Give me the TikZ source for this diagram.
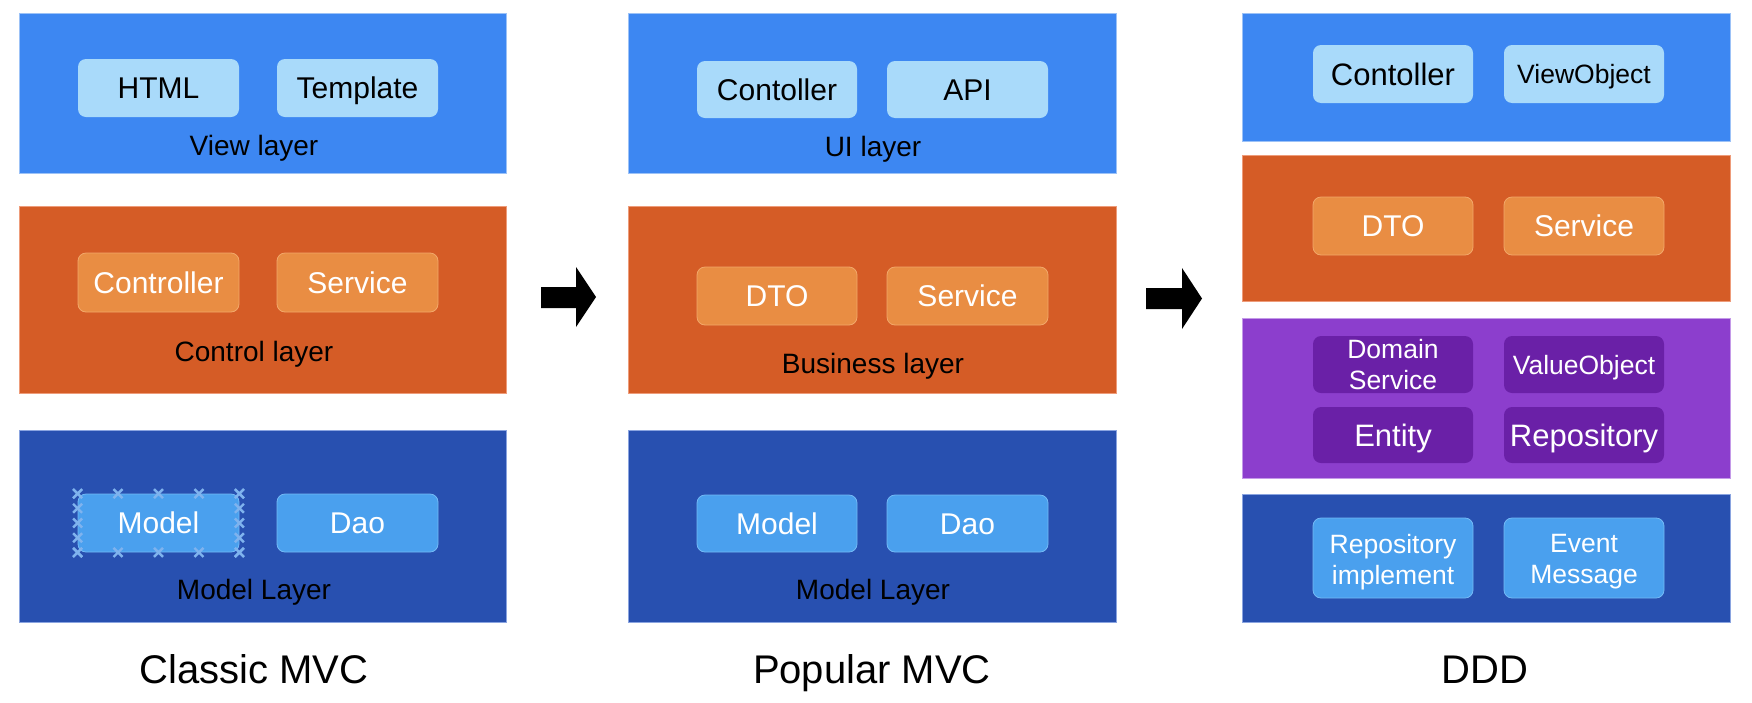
\documentclass[tikz,border=0pt]{standalone}
\usepackage{fontspec}
\setmainfont{Liberation Sans}
\usetikzlibrary{calc}
\definecolor{cTop}{HTML}{3D87F2}
\definecolor{cTopB}{HTML}{9CC2F7}
\definecolor{cLight}{HTML}{A9DAFA}
\definecolor{cOr}{HTML}{D55C26}
\definecolor{cOrB}{HTML}{EE9C7A}
\definecolor{cOrBox}{HTML}{E98D43}
\definecolor{cOrBoxB}{HTML}{F2A86A}
\definecolor{cDb}{HTML}{2850B0}
\definecolor{cDbB}{HTML}{8AA4E0}
\definecolor{cBlBox}{HTML}{4AA0EE}
\definecolor{cBlBoxB}{HTML}{74BAF6}
\definecolor{cPu}{HTML}{8C3ECD}
\definecolor{cPuB}{HTML}{C49AE8}
\definecolor{cPuBox}{HTML}{6A20A7}
\definecolor{cHandle}{HTML}{7FB3EE}
\newcommand\fsz[2]{\fontsize{#1}{#2}\selectfont}
\tikzset{
  layer/.style={inner sep=0pt, line width=1pt},
  toplayer/.style={layer, fill=cTop, draw=cTopB},
  orlayer/.style={layer, fill=cOr, draw=cOrB},
  dblayer/.style={layer, fill=cDb, draw=cDbB},
  pulayer/.style={layer, fill=cPu, draw=cPuB},
  capc/.style={text height=#1, text depth=0pt},
  ibox/.style={rounded corners=8pt, inner sep=0pt, align=center, font=\fsz{30}{36}},
  one/.style={capc=21.5pt},
  onebig/.style={font=\fsz{31}{37}, capc=22.2pt},
  onesmall/.style={font=\fsz{26.5}{31}, capc=19pt},
  lightbox/.style={ibox, fill=cLight, text=black},
  orbox/.style={ibox, fill=cOrBox, draw=cOrBoxB, line width=0.8pt, text=white},
  blbox/.style={ibox, fill=cBlBox, draw=cBlBoxB, line width=0.8pt, text=white},
  pubox/.style={ibox, fill=cPuBox, text=white},
  small/.style={font=\fsz{26.5}{31}},
  lab/.style={font=\fsz{28}{34}, text=black, inner sep=0pt, capc=20pt},
  titlelab/.style={font=\fsz{40}{48}, text=black, inner sep=0pt, capc=28.6pt},
  handle/.style={draw=cHandle, line width=2.4pt},
  bigarrow/.style={fill=black},
}
\begin{document}
\begin{tikzpicture}[x=1pt,y=-1pt]
\fill[white] (0,0) rectangle (1752,702);
\useasboundingbox (0,0) rectangle (1752,702);

% ---------- Column 1: Classic MVC ----------
\node[toplayer, minimum width=487pt, minimum height=160pt] (c1view) at (262.5,93) {};
\node[orlayer, minimum width=487pt, minimum height=187pt] (c1ctrl) at (262.5,299.5) {};
\node[dblayer, minimum width=487pt, minimum height=192pt] (c1model) at (262.5,526) {};

\node[lightbox, one, minimum width=161pt, minimum height=58pt] (html) at (158.5,88) {HTML};
\node[lightbox, one, minimum width=161pt, minimum height=58pt] (tmpl) at (357.5,88) {Template};
\node[lab] (viewlab) at (254,145.5) {View layer};

\node[orbox, one, minimum width=161pt, minimum height=59pt] (c1controller) at (158.5,282.5) {Controller};
\node[orbox, one, minimum width=161pt, minimum height=59pt] (c1service) at (357.5,282.5) {Service};
\node[lab] (ctrllab) at (254,351.5) {Control layer};

\node[blbox, one, minimum width=161pt, minimum height=58pt] (c1m) at (158.5,523) {Model};
\node[blbox, one, minimum width=161pt, minimum height=58pt] (c1dao) at (357.5,523) {Dao};
\node[lab] (c1modellab) at (254,589.5) {Model Layer};

\node[titlelab] (t1) at (254,669.5) {Classic MVC};

% selection handles on Model box
\foreach \t in {0,0.25,0.5,0.75,1} {
  \coordinate (ha) at ($(c1m.north west)!\t!(c1m.north east)$);
  \coordinate (hb) at ($(c1m.south west)!\t!(c1m.south east)$);
  \coordinate (hc) at ($(c1m.north west)!\t!(c1m.south west)$);
  \coordinate (hd) at ($(c1m.north east)!\t!(c1m.south east)$);
  \foreach \h in {ha,hb,hc,hd} {
    \draw[handle] ($(\h)+(-4.5,-4.5)$) -- ($(\h)+(4.5,4.5)$) ($(\h)+(-4.5,4.5)$) -- ($(\h)+(4.5,-4.5)$);
  }
}

% ---------- Arrow 1 ----------
\fill[bigarrow] (541,287) -- (576,287) -- (576,267) -- (596,297) -- (576,327) -- (576,308) -- (541,308) -- cycle;

% ---------- Column 2: Popular MVC ----------
\node[toplayer, minimum width=488pt, minimum height=160pt] (c2ui) at (872,93) {};
\node[orlayer, minimum width=488pt, minimum height=187pt] (c2bus) at (872,299.5) {};
\node[dblayer, minimum width=488pt, minimum height=192pt] (c2model) at (872,526) {};

\node[lightbox, one, minimum width=160pt, minimum height=57pt] (c2contoller) at (777,89.5) {Contoller};
\node[lightbox, one, minimum width=161pt, minimum height=57pt] (api) at (967.5,89.5) {API};
\node[lab] (uilab) at (873,146.5) {UI layer};

\node[orbox, one, minimum width=160pt, minimum height=58pt] (c2dto) at (777,296) {DTO};
\node[orbox, one, minimum width=161pt, minimum height=58pt] (c2service) at (967.5,296) {Service};
\node[lab] (buslab) at (873,363) {Business layer};

\node[blbox, one, minimum width=160pt, minimum height=57pt] (c2m) at (777,523.5) {Model};
\node[blbox, one, minimum width=161pt, minimum height=57pt] (c2dao) at (967.5,523.5) {Dao};
\node[lab] (c2modellab) at (873,589.5) {Model Layer};

\node[titlelab] (t2) at (872,669.5) {Popular MVC};

% ---------- Arrow 2 ----------
\fill[bigarrow] (1146,288) -- (1182,288) -- (1182,268) -- (1202,298.5) -- (1182,329) -- (1182,309) -- (1146,309) -- cycle;

% ---------- Column 3: DDD ----------
\node[toplayer, minimum width=488pt, minimum height=128pt] (c3ui) at (1486,77) {};
\node[orlayer, minimum width=488pt, minimum height=146pt] (c3app) at (1486,228) {};
\node[pulayer, minimum width=488pt, minimum height=160pt] (c3dom) at (1486,398) {};
\node[dblayer, minimum width=488pt, minimum height=128pt] (c3inf) at (1486,558) {};

\node[lightbox, onebig, minimum width=160pt, minimum height=58pt] (c3contoller) at (1393,74) {Contoller};
\node[lightbox, onesmall, minimum width=160pt, minimum height=58pt] (vo) at (1584,74) {ViewObject};

\node[orbox, one, minimum width=160pt, minimum height=58pt] (c3dto) at (1393,226) {DTO};
\node[orbox, one, minimum width=160pt, minimum height=58pt] (c3service) at (1584,226) {Service};

\node[pubox, small, minimum width=160pt, minimum height=57pt] (domsvc) at (1393,364.5) {Domain\\Service};
\node[pubox, onesmall, minimum width=160pt, minimum height=57pt] (valobj) at (1584,364.5) {ValueObject};
\node[pubox, onebig, minimum width=160pt, minimum height=56pt] (entity) at (1393,435) {Entity};
\node[pubox, onebig, minimum width=160pt, minimum height=56pt] (repo) at (1584,435) {Repository};

\node[blbox, small, minimum width=160pt, minimum height=80pt] (repoimpl) at (1393,558) {};
\node[small, text=white, align=center, inner sep=0pt] (repoimpltxt) at (1393,562) {Repository\\implement};
\node[blbox, small, minimum width=160pt, minimum height=80pt] (evmsg) at (1584,558) {};
\node[small, text=white, align=center, inner sep=0pt] (evmsgtxt) at (1584,562) {Event\\Message};

\node[titlelab] (t3) at (1485,669) {DDD};
\end{tikzpicture}
\end{document}
